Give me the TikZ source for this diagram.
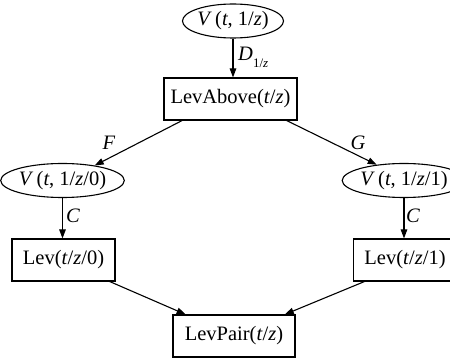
\documentclass[tikz,border=0pt]{standalone}
\usepackage{fontspec}
\setmainfont{Liberation Serif}
\usetikzlibrary{arrows.meta,shapes.geometric}
\begin{document}
\begin{tikzpicture}[x=1pt,y=-1pt,
  every node/.style={font=\fontsize{20.5}{22}\selectfont},
  oval/.style={draw,ellipse,line width=1.1pt,inner sep=0pt,minimum height=34pt},
  rbox/.style={draw,rectangle,line width=1.1pt,inner sep=0pt,minimum height=42pt},
  conn/.style={line width=1.1pt,-{Triangle[length=9pt,width=6.5pt]}},
  lbl/.style={font=\fontsize{20.5}{22}\selectfont\itshape,inner sep=0pt}]
\useasboundingbox (0,0) rectangle (450,358);
\node[oval,minimum width=90pt] (top) at (233,21) {\textit{V}\,(\textit{t}, 1/\textit{z})};
\node[rbox,minimum width=133pt] (la) at (230.5,99) {LevAbove(\textit{t}/\textit{z})};
\node[oval,minimum width=105pt] (v0) at (62.5,180.5) {\textit{V}\,(\textit{t}, 1/\textit{z}/0)};
\node[oval,minimum width=105pt] (v1) at (404,180.5) {\textit{V}\,(\textit{t}, 1/\textit{z}/1)};
\node[rbox,minimum width=103pt] (l0) at (63.5,260) {Lev(\textit{t}/\textit{z}/0)};
\node[rbox,minimum width=103pt] (l1) at (405,260) {Lev(\textit{t}/\textit{z}/1)};
\node[rbox,minimum width=122pt] (lp) at (234,336) {LevPair(\textit{t}/\textit{z})};
\draw[conn] (top.south) -- (top.south |- la.north);
\draw[conn] (la.204) -- (v0.25);
\draw[conn] (la.339) -- (v1.150);
\draw[conn] (v0.south) -- (v0.south |- l0.north);
\draw[conn] (v1.south) -- (v1.south |- l1.north);
\draw[conn] (l0.335) -- (lp.156);
\draw[conn] (l1.208) -- (lp.23);
\node[lbl,anchor=west] (dl) at (238,57) {D\raisebox{-0.35em}{\fontsize{13}{14}\selectfont\upshape 1/\textit{z}}};
\node[lbl] (fl) at (109,143) {F};
\node[lbl] (gl) at (358,143) {G};
\node[lbl] (c0) at (73,216) {C};
\node[lbl] (c1) at (413,216) {C};
\end{tikzpicture}
\end{document}
